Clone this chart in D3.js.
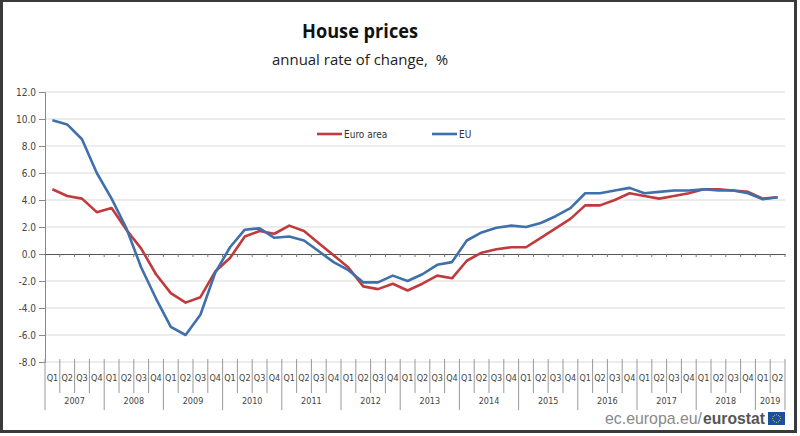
<!DOCTYPE html>
<html>
<head>
<meta charset="utf-8">
<script src="https://cdn.jsdelivr.net/npm/d3@7"></script>
<style>
  html, body { margin: 0; padding: 0; background: #fff; }
  svg { display: block; }
</style>
</head>
<body>
<div id="chart"></div>
<script>
const years = [2007, 2008, 2009, 2010, 2011, 2012, 2013, 2014, 2015, 2016, 2017, 2018, 2019];
const quarters = ["Q1", "Q2", "Q3", "Q4"];
const yTicks = [-8, -6, -4, -2, 0, 2, 4, 6, 8, 10, 12];

// annual rate of change, %, 2007Q1 .. 2019Q2
const euroArea = [
  4.8, 4.3, 4.1, 3.1, 3.4, 1.8, 0.4, -1.5,
  -2.9, -3.6, -3.2, -1.3, -0.3, 1.3, 1.7, 1.5,
  2.1, 1.7, 0.8, -0.1, -1.0, -2.4, -2.6, -2.2,
  -2.7, -2.2, -1.6, -1.8, -0.5, 0.1, 0.35, 0.5,
  0.5, 1.2, 1.9, 2.6, 3.6, 3.6, 4.0, 4.5,
  4.3, 4.1, 4.3, 4.5, 4.8, 4.8, 4.7, 4.6,
  4.1, 4.2
];
const eu = [
  9.9, 9.6, 8.5, 6.0, 4.1, 1.9, -1.0, -3.3,
  -5.4, -6.0, -4.5, -1.4, 0.5, 1.8, 1.9, 1.2,
  1.3, 1.0, 0.2, -0.6, -1.2, -2.1, -2.1, -1.6,
  -2.0, -1.5, -0.8, -0.6, 1.0, 1.6, 1.95, 2.1,
  2.0, 2.3, 2.8, 3.4, 4.5, 4.5, 4.7, 4.9,
  4.5, 4.6, 4.7, 4.7, 4.8, 4.7, 4.7, 4.5,
  4.05, 4.2
];
const seriesNames = ["Euro area", "EU"];
const seriesColors = ["#bf3b3d", "#3f70ab"];

const periods = years.flatMap(y => quarters.map(q => ({ year: y, q: q, key: y + q })))
  .slice(0, eu.length);

const width = 800, height = 436;
const plotLeft = 45, plotRight = 785, plotTop = 92, plotBottom = 362;
const labelFont = "'Liberation Sans Narrow', 'DejaVu Sans Condensed', sans-serif";

const svg = d3.select("#chart").append("svg")
  .attr("width", width).attr("height", height);

// outer frame
svg.append("rect")
  .attr("x", 1.5).attr("y", 0.5).attr("width", 794).attr("height", 431)
  .attr("fill", "#fff").attr("stroke", "#3a3a3a").attr("stroke-width", 3);

// titles
svg.append("text")
  .attr("x", 360).attr("y", 38).attr("text-anchor", "middle")
  .attr("font-family", "'Open Sans', sans-serif").attr("font-weight", "bold")
  .attr("font-size", 19).attr("fill", "#111")
  .attr("textLength", 116).attr("lengthAdjust", "spacingAndGlyphs")
  .text("House prices");
svg.append("text")
  .attr("x", 360).attr("y", 65).attr("text-anchor", "middle")
  .attr("font-family", "'Open Sans', sans-serif")
  .attr("font-size", 15).attr("fill", "#222")
  .style("white-space", "pre")
  .attr("textLength", 176).attr("lengthAdjust", "spacingAndGlyphs")
  .text("annual rate of change,  %");

const x = d3.scaleBand().domain(periods.map(d => d.key)).range([plotLeft, plotRight]);
const y = d3.scaleLinear().domain([-8, 12]).range([plotBottom, plotTop]);

// gridlines
svg.append("g").selectAll("line")
  .data(yTicks.filter(d => d !== 0))
  .join("line")
  .attr("x1", plotLeft).attr("x2", plotRight)
  .attr("y1", d => y(d)).attr("y2", d => y(d))
  .attr("stroke", "#d9d9d9").attr("stroke-width", 1);

// y axis
const yAxis = svg.append("g")
  .attr("transform", `translate(${plotLeft},0)`)
  .call(d3.axisLeft(y).tickValues(yTicks).tickSize(6).tickPadding(3));
yAxis.select(".domain").attr("stroke", "#888");
yAxis.selectAll(".tick line").attr("stroke", "#888");
yAxis.selectAll(".tick text")
  .attr("font-family", labelFont).attr("font-size", 10).attr("fill", "#444")
  .text(d => d3.format(".1f")(d).replace("−", "-"));

// zero line with quarter ticks
const zeroAxis = svg.append("g")
  .attr("transform", `translate(0,${y(0)})`)
  .call(d3.axisBottom(x).tickValues([]).tickSizeOuter(0));
zeroAxis.select(".domain").attr("stroke", "#555");
svg.append("g").selectAll("line")
  .data(periods)
  .join("line")
  .attr("x1", d => x(d.key) + x.bandwidth()).attr("x2", d => x(d.key) + x.bandwidth())
  .attr("y1", y(0)).attr("y2", y(0) + 3)
  .attr("stroke", "#777");

// category table below plot
const table = svg.append("g");
table.selectAll("line.q")
  .data(periods)
  .join("line")
  .attr("class", "q")
  .attr("x1", d => x(d.key)).attr("x2", d => x(d.key))
  .attr("y1", plotBottom - 3)
  .attr("y2", d => d.q === "Q1" ? 410 : 393)
  .attr("stroke", "#999").attr("stroke-width", 1);
table.append("line")
  .attr("x1", plotRight).attr("x2", plotRight).attr("y1", plotBottom - 3).attr("y2", 410)
  .attr("stroke", "#999");
table.selectAll("text.q")
  .data(periods)
  .join("text")
  .attr("class", "q")
  .attr("x", d => x(d.key) + x.bandwidth() / 2).attr("y", 381)
  .attr("text-anchor", "middle")
  .attr("font-family", labelFont).attr("font-size", 9).attr("fill", "#444")
  .text(d => d.q);
table.selectAll("text.yr")
  .data(years)
  .join("text")
  .attr("class", "yr")
  .attr("x", yr => {
    const ps = periods.filter(p => p.year === yr);
    return (x(ps[0].key) + x(ps[ps.length - 1].key) + x.bandwidth()) / 2;
  })
  .attr("y", 404)
  .attr("text-anchor", "middle")
  .attr("font-family", labelFont).attr("font-size", 9).attr("fill", "#444")
  .text(yr => yr);

// lines
const line = d3.line()
  .x((d, i) => x(periods[i].key) + x.bandwidth() / 2)
  .y(d => y(d));
[euroArea, eu].forEach((vals, k) => {
  svg.append("path")
    .datum(vals)
    .attr("fill", "none")
    .attr("stroke", seriesColors[k])
    .attr("stroke-width", 2.6)
    .attr("stroke-linejoin", "round")
    .attr("d", line);
});

// legend
const legendX = [317, 432];
const legend = svg.append("g").selectAll("g")
  .data(seriesNames)
  .join("g")
  .attr("transform", (d, i) => `translate(${legendX[i]},134)`);
legend.append("line")
  .attr("x1", 0).attr("x2", 25)
  .attr("stroke", (d, i) => seriesColors[i]).attr("stroke-width", 2.6);
legend.append("text")
  .attr("x", 27).attr("y", 3.5)
  .attr("font-family", labelFont).attr("font-size", 10).attr("fill", "#333")
  .text(d => d);

// eurostat signature
svg.append("text")
  .attr("x", 605).attr("y", 424)
  .attr("font-family", "'Liberation Sans', Arial, sans-serif").attr("font-size", 17)
  .attr("fill", "#8a8a8a")
  .attr("textLength", 97).attr("lengthAdjust", "spacingAndGlyphs")
  .text("ec.europa.eu/");
svg.append("text")
  .attr("x", 703).attr("y", 424)
  .attr("font-family", "'Liberation Sans', Arial, sans-serif").attr("font-size", 17)
  .attr("fill", "#555").attr("font-weight", "bold")
  .attr("textLength", 62).attr("lengthAdjust", "spacingAndGlyphs")
  .text("eurostat");
svg.append("rect")
  .attr("x", 768).attr("y", 412).attr("width", 17).attr("height", 13)
  .attr("fill", "#1f4ea0");
const stars = d3.range(12).map(i => i * Math.PI / 6);
svg.append("g").selectAll("circle")
  .data(stars)
  .join("circle")
  .attr("cx", a => 776.5 + 3.8 * Math.cos(a))
  .attr("cy", a => 418.5 + 3.8 * Math.sin(a))
  .attr("r", 0.5)
  .attr("fill", "#e8d64a");
</script>
</body>
</html>
